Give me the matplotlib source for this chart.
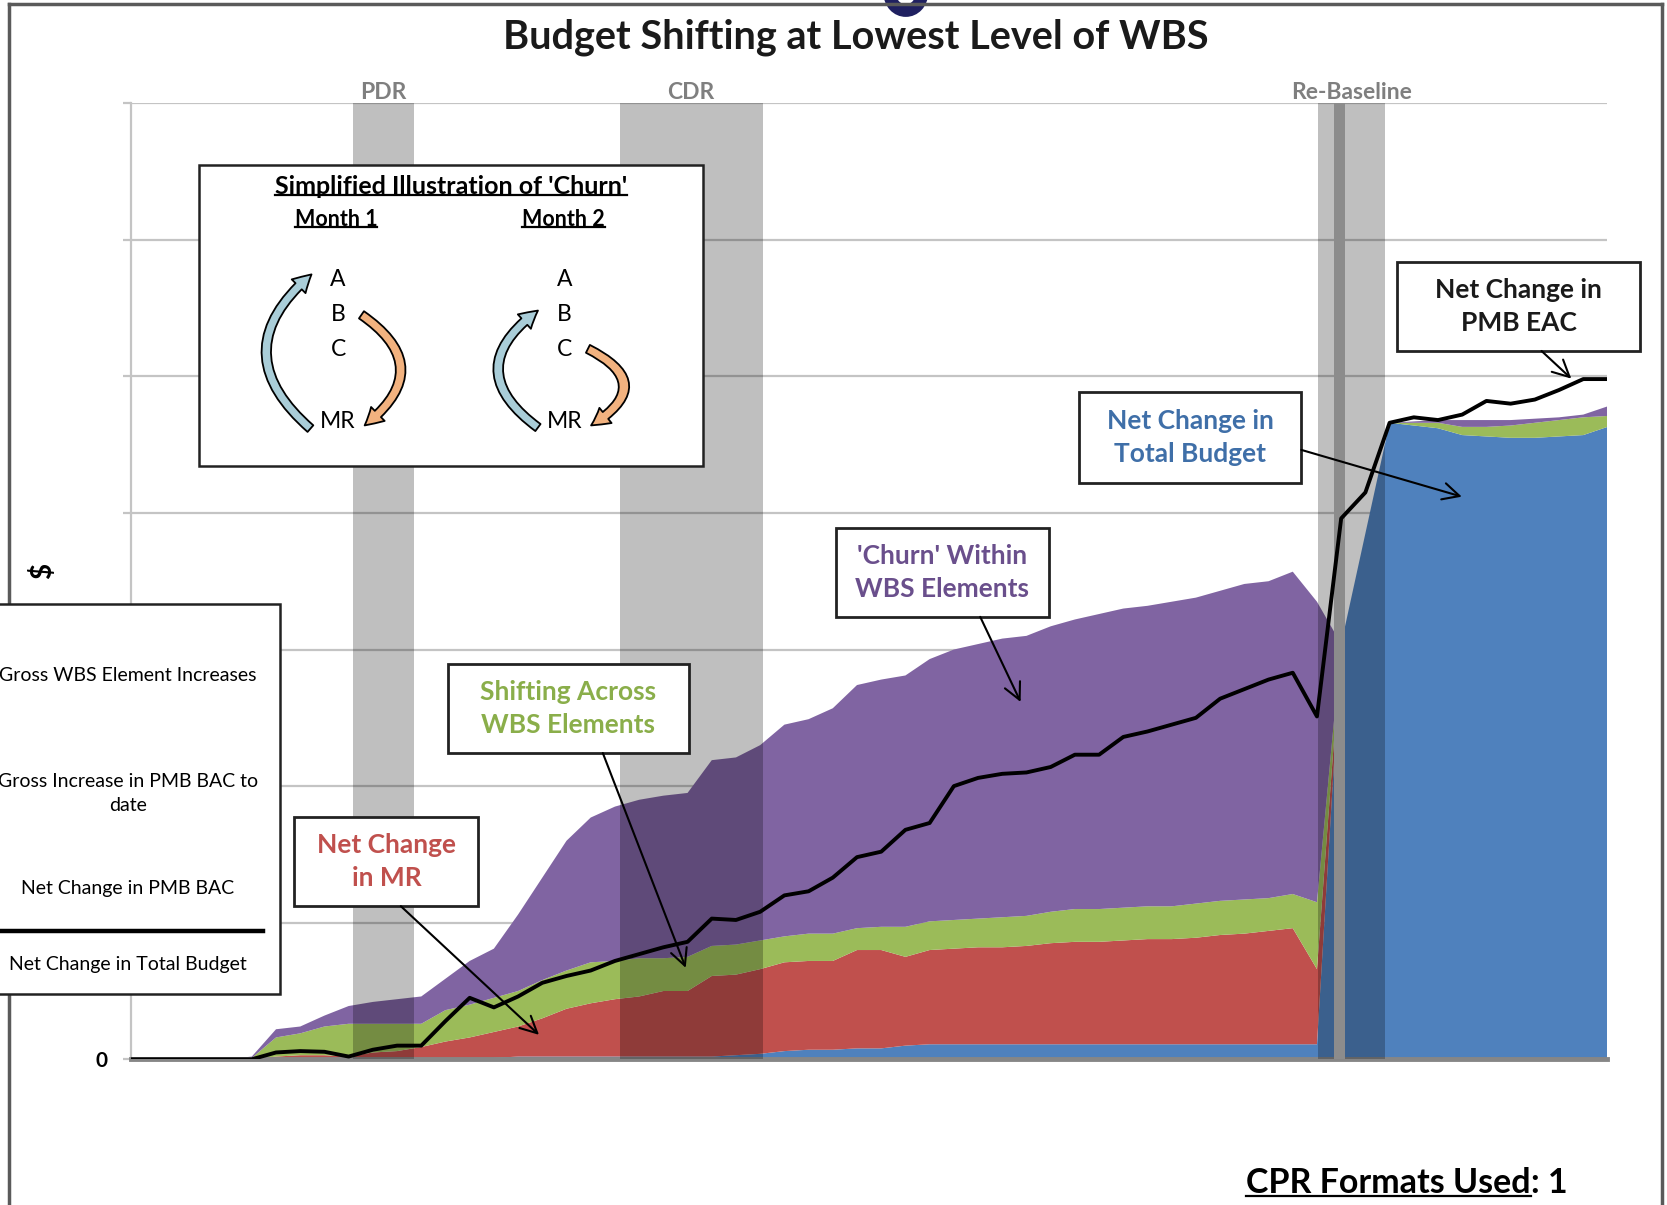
import matplotlib.pyplot as plt
from matplotlib.patches import Rectangle, FancyArrowPatch, Arc
from matplotlib.lines import Line2D

plt.rcParams['font.family'] = ['Lato', 'DejaVu Sans']

# monthly periods
periods = list(range(62))

# stacked layers (thickness of each layer)
blue_vals = [0] * 15 + [0.01] + [0.02] * 9 + [0.03, 0.04, 0.06, 0.07, 0.07, 0.08, 0.08, 0.10] + [0.11] * 17 + \
    [3.04, 3.85, 4.66, 4.64, 4.62, 4.57, 4.56, 4.55, 4.55, 4.56, 4.57, 4.63]
red_vals = [0] * 6 + \
    [0.02, 0.03, 0.03, 0.02, 0.05, 0.06, 0.09, 0.13, 0.16, 0.19,
     0.22, 0.28, 0.35, 0.39, 0.42, 0.44, 0.48, 0.48, 0.59, 0.59,
     0.62, 0.65, 0.65, 0.65, 0.72, 0.72, 0.65, 0.69, 0.70, 0.71,
     0.71, 0.72, 0.74, 0.75, 0.75, 0.76, 0.77, 0.77, 0.78, 0.80,
     0.81, 0.83, 0.85, 0.55] + [0] * 12
green_vals = [0] * 5 + \
    [0.01, 0.14, 0.16, 0.21, 0.24, 0.21, 0.20, 0.17, 0.23, 0.24,
     0.25, 0.26, 0.28, 0.28, 0.30, 0.28, 0.28, 0.24, 0.25, 0.22,
     0.22, 0.21, 0.19, 0.20, 0.20, 0.16, 0.17, 0.22, 0.21, 0.21,
     0.21, 0.22, 0.22, 0.23, 0.24, 0.24, 0.24, 0.24, 0.24, 0.25,
     0.25, 0.25, 0.24, 0.25, 0.49,
     0, 0, 0, 0.02, 0.04, 0.06, 0.07, 0.09, 0.11, 0.12, 0.13, 0.08]
purple_vals = [0] * 5 + \
    [0.01, 0.06, 0.05, 0.08, 0.13, 0.16, 0.18, 0.20, 0.23, 0.32,
     0.36, 0.56, 0.75, 0.95, 1.06, 1.13, 1.16, 1.19, 1.20, 1.36,
     1.37, 1.43, 1.55, 1.57, 1.65, 1.78, 1.81, 1.84, 1.92, 1.98,
     2.01, 2.04, 2.05, 2.09, 2.12, 2.16, 2.19, 2.20, 2.23, 2.24,
     2.27, 2.31, 2.32, 2.36, 2.20,
     0, 0, 0, 0.01, 0.02, 0.05, 0.05, 0.04, 0.03, 0.02, 0.02, 0.07]

# net change in PMB EAC (black line)
eac_line = [0] * 5 + \
    [0.0, 0.05, 0.06, 0.055, 0.02, 0.07, 0.10, 0.10, 0.28, 0.45,
     0.38, 0.46, 0.56, 0.61, 0.65, 0.72, 0.77, 0.82, 0.86, 1.03,
     1.02, 1.08, 1.20, 1.23, 1.33, 1.48, 1.52, 1.68, 1.73, 2.00,
     2.06, 2.09, 2.10, 2.14, 2.23, 2.23, 2.36, 2.40, 2.45, 2.50,
     2.64, 2.71, 2.78, 2.83, 2.51,
     3.96, 4.15, 4.66, 4.70, 4.68, 4.72, 4.82, 4.80, 4.83, 4.90, 4.98, 4.98]

milestones = ['PDR', 'CDR', 'Re-Baseline']
milestone_spans = [(9.2, 11.7), (20.2, 26.1), (49.05, 51.8)]
rebaseline_mark = (49.7, 50.15)

legend_labels = ['Gross WBS Element Increases', 'Gross Increase in PMB BAC to\ndate',
                 'Net Change in PMB BAC', 'Net Change in Total Budget']

colors = ['#4F81BD', '#C0504D', '#9BBB59', '#8064A2']

W, H = 1568, 1133  # layout measured on this size


def fx(x):
    return x / W


def fy(y):
    return 1 - y / H


fig = plt.figure(figsize=(16.67, 12.05), dpi=100)
ax = fig.add_axes([fx(123), fy(996), fx(1512) - fx(123), fy(97) - fy(996)])

ax.stackplot(periods, blue_vals, red_vals, green_vals, purple_vals, colors=colors, linewidth=0, zorder=2)
for a, b in milestone_spans:
    ax.axvspan(a, b, color='black', alpha=0.25, lw=0, zorder=3)
ax.axvspan(*rebaseline_mark, color='#8C8C8C', lw=0, zorder=3.5)
ax.plot(periods, eac_line, color='black', lw=2.8, zorder=5)

ax.set_xlim(0, 61)
ax.set_ylim(0, 7)
ax.set_yticks(range(8))
ax.set_yticklabels(['0'] + [''] * 7, fontweight='bold', fontsize=15)
ax.set_xticks([])
ax.yaxis.grid(True, color='#C4C4C4', lw=1.6)
ax.set_axisbelow(True)
ax.tick_params(axis='y', length=6, width=1.6, color='#C4C4C4', pad=11)
for s in ['top', 'right']:
    ax.spines[s].set_visible(False)
ax.spines['left'].set_color('#C4C4C4')
ax.spines['left'].set_linewidth(1.6)
ax.spines['bottom'].set_color('#868686')
ax.spines['bottom'].set_linewidth(3.5)

for name, (a, b) in zip(milestones, milestone_spans):
    ax.text((a + b) / 2, 7.0, name, ha='center', va='bottom', color='#7F7F7F',
            fontweight='bold', fontsize=16.5)

fig.text(fx(805), fy(35), 'Budget Shifting at Lowest Level of WBS', ha='center', va='center',
         fontsize=28.5, fontweight='bold', color='#1A1A1A')
fig.text(fx(40), fy(537), r'\$', rotation=90, ha='center', va='center', fontsize=20, fontweight='bold')
# descender of a cut-off heading above the slide
fig.add_artist(Arc((fx(852), fy(-6)), fx(30), fy(0) - fy(32), theta1=180, theta2=360,
                   transform=fig.transFigure, color='#1F2060', lw=9))

# outer frame
for xs, ys in [([8, 1563], [4, 4]), ([8, 8], [4, 1140]), ([1563, 1563], [4, 1140])]:
    fig.add_artist(Line2D([fx(v) for v in xs], [fy(v) for v in ys], color='#5A5A5A', lw=2.5))


def box(x0, y0, x1, y1, lw=1.8, z=10):
    fig.add_artist(Rectangle((fx(x0), fy(y1)), fx(x1) - fx(x0), fy(y0) - fy(y1), transform=fig.transFigure,
                             facecolor='white', edgecolor='#222222', lw=lw, zorder=z))


def pointer(p, q):
    fig.add_artist(FancyArrowPatch((fx(p[0]), fy(p[1])), (fx(q[0]), fy(q[1])), transform=fig.transFigure,
                                   arrowstyle='->,head_length=0.6,head_width=0.3', mutation_scale=20,
                                   color='black', lw=1.5, shrinkA=0, shrinkB=0, zorder=12))


# legend
box(-10, 568, 263, 935)
for label, y in zip(legend_labels, [635, 746, 835, 907]):
    fig.text(fx(120), fy(y), label, ha='center', va='center', fontsize=14, zorder=11, linespacing=1.5)
fig.add_artist(Line2D([fx(0), fx(247)], [fy(875), fy(875)], color='black', lw=3.2, zorder=11))

# churn illustration
box(187, 155, 661, 438)
under = []
under.append(fig.text(fx(424), fy(175), "Simplified Illustration of 'Churn'", ha='center', va='center',
                      fontsize=18, fontweight='bold', zorder=11))
under.append(fig.text(fx(316), fy(206), 'Month 1', ha='center', va='center', fontsize=15.5,
                      fontweight='bold', zorder=11))
under.append(fig.text(fx(530), fy(206), 'Month 2', ha='center', va='center', fontsize=15.5,
                      fontweight='bold', zorder=11))
for cx in [318, 531]:
    for letter, y in zip(['A', 'B', 'C', 'MR'], [263, 296, 329, 396]):
        fig.text(fx(cx), fy(y), letter, ha='center', va='center', fontsize=16.5, zorder=11)


def curl(p, q, rad, fc):
    fig.add_artist(FancyArrowPatch((fx(p[0]), fy(p[1])), (fx(q[0]), fy(q[1])), transform=fig.transFigure,
                                   arrowstyle='simple,head_length=0.9,head_width=1.0,tail_width=0.45',
                                   connectionstyle=f'arc3,rad={rad}', mutation_scale=14,
                                   facecolor=fc, edgecolor='black', lw=1.3, shrinkA=0, shrinkB=0, zorder=12))


light_blue = '#A9CDD8'
light_orange = '#F2B27F'
curl((292, 403), (293, 258), -0.58, light_blue)
curl((340, 296), (343, 400), -0.68, light_orange)
curl((506, 402), (506, 292), -0.68, light_blue)
curl((553, 328), (556, 400), -0.9, light_orange)

# call-out boxes
callouts = [
    ((277, 768, 450, 852), 'Net Change\nin MR', '#C0504D', (377, 852), (507, 973)),
    ((421, 624, 648, 708), 'Shifting Across\nWBS Elements', '#8AAE4A', (567, 708), (645, 910)),
    ((786, 496, 987, 580), "'Churn' Within\nWBS Elements", '#6A4F8C', (922, 580), (960, 660)),
    ((1015, 369, 1224, 454), 'Net Change in\nTotal Budget', '#3F6FA8', (1224, 423), (1375, 467)),
    ((1314, 246, 1543, 330), 'Net Change in\nPMB EAC', '#1A1A1A', (1450, 330), (1478, 356)),
]
for (x0, y0, x1, y1), txt, col, p, q in callouts:
    box(x0, y0, x1, y1, lw=2)
    fig.text(fx((x0 + x1) / 2), fy((y0 + y1) / 2), txt, ha='center', va='center', color=col,
             fontsize=19, fontweight='bold', linespacing=1.45, zorder=11)
    pointer(p, q)

# footer
cpr = fig.text(fx(1172), fy(1112), 'CPR Formats Used', ha='left', va='center', fontsize=24.5, fontweight='bold')
under.append(cpr)

fig.canvas.draw()
inv = fig.transFigure.inverted()
for t in under:
    bb = t.get_window_extent().transformed(inv)
    fig.add_artist(Line2D([bb.x0, bb.x1], [bb.y0 + 0.002, bb.y0 + 0.002], color='black', lw=1.6, zorder=12))
bb = cpr.get_window_extent().transformed(inv)
fig.text(bb.x1, fy(1112), ': 1', ha='left', va='center', fontsize=24.5, fontweight='bold')

fig.savefig('out.png', dpi=100)
